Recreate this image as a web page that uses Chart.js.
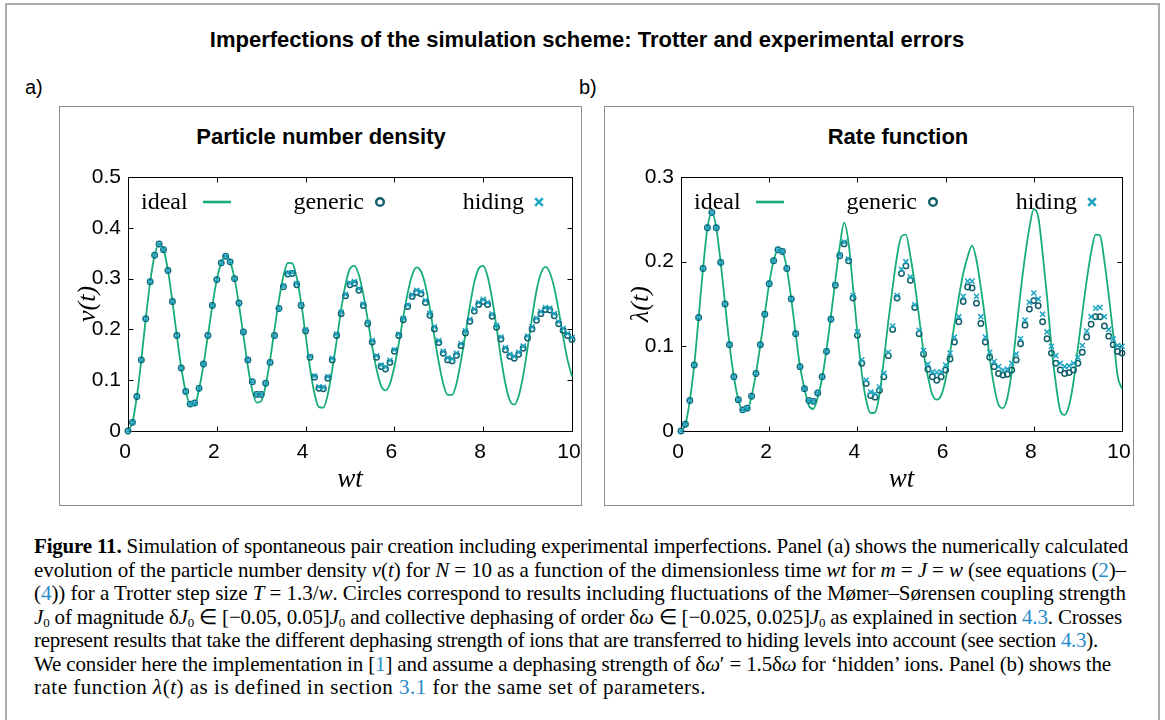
<!DOCTYPE html>
<html lang="en">
<head>
<meta charset="UTF-8">
<title>Imperfections of the simulation scheme</title>
<script src="https://cdn.jsdelivr.net/npm/chart.js@4.4.1/dist/chart.umd.min.js"></script>
<style>
  * { margin: 0; padding: 0; box-sizing: border-box; }
  body {
    width: 1165px; height: 720px; overflow: hidden; position: relative;
    background: #fff; color: #000;
    font-family: 'Liberation Sans', Arial, sans-serif;
  }
  .outer { position: absolute; left: 5px; top: 3px; width: 1155px; height: 760px; border: 2px solid #ababab; }
  .main-title { position: absolute; left: 0; top: 26px; width: 1174px; text-align: center; font-size: 22px; font-weight: bold; line-height: 28px; }
  .tag { position: absolute; top: 74px; font-size: 20px; line-height: 26px; }
  .panel { position: absolute; border: 1px solid #8e8e8e; }
  .panel-title { position: absolute; width: 400px; text-align: center; font-size: 22px; font-weight: bold; line-height: 28px; top: 123px; }
  canvas { position: absolute; }
  .caption {
    position: absolute; left: 34px; top: 535px;
    font-family: 'Liberation Serif', 'Times New Roman', serif; font-size: 21px; line-height: 23.5px;
  }
  .caption div { white-space: nowrap; }
  .caption a { color: #2a8bc9; text-decoration: none; }
  .caption sub { font-size: 13px; vertical-align: -3px; line-height: 0; }
</style>
</head>
<body>
<div class="outer"></div>
<div class="main-title">Imperfections of the simulation scheme: Trotter and experimental errors</div>
<div class="tag" style="left:25px">a)</div>
<div class="tag" style="left:579px">b)</div>

<div class="panel" style="left:59px; top:106px; width:523px; height:400px"></div>
<div class="panel" style="left:604px; top:106px; width:530px; height:400px"></div>
<div class="panel-title" style="left:121px">Particle number density</div>
<div class="panel-title" style="left:698px">Rate function</div>

<canvas id="chartA" width="560" height="397" style="left:40px; top:107px"></canvas>
<canvas id="chartB" width="550" height="397" style="left:600px; top:107px"></canvas>

<div class="caption">
  <div data-w="1094"><b>Figure 11.</b> Simulation of spontaneous pair creation including experimental imperfections. Panel (a) shows the numerically calculated</div>
  <div data-w="1092">evolution of the particle number density <i>ν</i>(<i>t</i>) for <i>N</i> = 10 as a function of the dimensionless time <i>wt</i> for <i>m</i> = <i>J</i> = <i>w</i> (see equations (<a>2</a>)–</div>
  <div data-w="1092">(<a>4</a>)) for a Trotter step size <i>T</i> = 1.3/<i>w</i>. Circles correspond to results including fluctuations of the Mømer–Sørensen coupling strength</div>
  <div data-w="1088"><i>J</i><sub>0</sub> of magnitude δ<i>J</i><sub>0</sub> ∈ [−0.05, 0.05]<i>J</i><sub>0</sub> and collective dephasing of order δ<i>ω</i> ∈ [−0.025, 0.025]<i>J</i><sub>0</sub> as explained in section <a>4.3</a>. Crosses</div>
  <div data-w="1064">represent results that take the different dephasing strength of ions that are transferred to hiding levels into account (see section <a>4.3</a>).</div>
  <div data-w="1077">We consider here the implementation in [<a>1</a>] and assume a dephasing strength of δ<i>ω</i>′ = 1.5δ<i>ω</i> for ‘hidden’ ions. Panel (b) shows the</div>
  <div data-w="672">rate function <i>λ</i>(<i>t</i>) as is defined in section <a>3.1</a> for the same set of parameters.</div>
</div>

<script>
// time grid wt = 0, 0.1, ..., 10 (one marker every 0.1)
const wt = Array.from({ length: 101 }, (_, i) => i / 10);

const xTicks = [0, 2, 4, 6, 8, 10];
const xTickLabels = ['0', '2', '4', '6', '8', '10'];
const yTicksA = [0, 0.1, 0.2, 0.3, 0.4, 0.5];
const yTickLabelsA = ['0', '0.1', '0.2', '0.3', '0.4', '0.5'];
const yTicksB = [0, 0.1, 0.2, 0.3];
const yTickLabelsB = ['0', '0.1', '0.2', '0.3'];

const seriesNames = ['ideal', 'generic', 'hiding'];

// (a) particle number density
const idealA = [
  0, 0.017, 0.068, 0.140, 0.221, 0.294, 0.346, 0.368, 0.357, 0.316,
  0.255, 0.188, 0.124, 0.078, 0.053, 0.052, 0.082, 0.130, 0.188, 0.247,
  0.298, 0.331, 0.345, 0.333, 0.300, 0.248, 0.188, 0.127, 0.080, 0.056,
  0.059, 0.089, 0.140, 0.200, 0.258, 0.305, 0.331, 0.330, 0.302, 0.252,
  0.189, 0.124, 0.074, 0.047, 0.046, 0.072, 0.121, 0.178, 0.239, 0.289,
  0.320, 0.325, 0.307, 0.269, 0.219, 0.166, 0.121, 0.089, 0.080, 0.093,
  0.127, 0.173, 0.224, 0.272, 0.307, 0.322, 0.314, 0.286, 0.241, 0.187,
  0.135, 0.093, 0.071, 0.071, 0.094, 0.139, 0.191, 0.246, 0.293, 0.320,
  0.325, 0.304, 0.261, 0.204, 0.144, 0.093, 0.060, 0.052, 0.069, 0.109,
  0.163, 0.223, 0.276, 0.310, 0.323, 0.312, 0.282, 0.237, 0.186, 0.140,
  0.107
];
const genericA = [
  0, 0.017, 0.068, 0.140, 0.221, 0.294, 0.346, 0.368, 0.357, 0.316,
  0.255, 0.188, 0.124, 0.078, 0.053, 0.055, 0.084, 0.132, 0.188, 0.247,
  0.298, 0.331, 0.344, 0.333, 0.300, 0.252, 0.195, 0.140, 0.097, 0.072,
  0.072, 0.094, 0.135, 0.188, 0.241, 0.284, 0.309, 0.310, 0.288, 0.247,
  0.197, 0.145, 0.106, 0.084, 0.083, 0.104, 0.140, 0.188, 0.231, 0.266,
  0.288, 0.291, 0.277, 0.247, 0.211, 0.175, 0.145, 0.127, 0.122, 0.135,
  0.157, 0.188, 0.219, 0.245, 0.265, 0.273, 0.270, 0.253, 0.228, 0.201,
  0.174, 0.153, 0.140, 0.138, 0.149, 0.168, 0.193, 0.216, 0.236, 0.249,
  0.255, 0.249, 0.226, 0.204, 0.181, 0.160, 0.147, 0.143, 0.151, 0.163,
  0.183, 0.201, 0.218, 0.231, 0.239, 0.238, 0.227, 0.211, 0.198, 0.188,
  0.180
];
const hidingA = [
  0, 0.017, 0.068, 0.140, 0.221, 0.294, 0.346, 0.368, 0.357, 0.316,
  0.255, 0.188, 0.124, 0.078, 0.053, 0.055, 0.084, 0.132, 0.188, 0.247,
  0.298, 0.331, 0.344, 0.333, 0.300, 0.252, 0.195, 0.140, 0.097, 0.072,
  0.072, 0.094, 0.135, 0.188, 0.241, 0.285, 0.311, 0.312, 0.290, 0.249,
  0.199, 0.147, 0.108, 0.087, 0.086, 0.107, 0.143, 0.191, 0.234, 0.269,
  0.291, 0.294, 0.280, 0.250, 0.214, 0.178, 0.148, 0.130, 0.126, 0.139,
  0.160, 0.191, 0.222, 0.248, 0.268, 0.277, 0.274, 0.257, 0.232, 0.205,
  0.178, 0.157, 0.144, 0.142, 0.153, 0.172, 0.197, 0.220, 0.240, 0.253,
  0.259, 0.253, 0.230, 0.208, 0.185, 0.164, 0.151, 0.147, 0.155, 0.167,
  0.187, 0.205, 0.222, 0.235, 0.243, 0.242, 0.231, 0.215, 0.202, 0.192,
  0.184
];

// (b) rate function
const idealB = [
  0, 0.008, 0.036, 0.078, 0.134, 0.192, 0.240, 0.258, 0.240, 0.199,
  0.150, 0.102, 0.064, 0.037, 0.025, 0.025, 0.041, 0.068, 0.102, 0.138,
  0.174, 0.201, 0.214, 0.212, 0.192, 0.156, 0.115, 0.076, 0.050, 0.030,
  0.026, 0.040, 0.062, 0.096, 0.136, 0.178, 0.218, 0.246, 0.222, 0.170,
  0.116, 0.068, 0.036, 0.021, 0.022, 0.043, 0.084, 0.129, 0.170, 0.207,
  0.230, 0.232, 0.207, 0.174, 0.134, 0.093, 0.064, 0.043, 0.037, 0.042,
  0.061, 0.092, 0.126, 0.158, 0.186, 0.206, 0.219, 0.202, 0.169, 0.131,
  0.087, 0.053, 0.031, 0.027, 0.039, 0.070, 0.117, 0.164, 0.206, 0.240,
  0.262, 0.253, 0.210, 0.159, 0.100, 0.056, 0.024, 0.019, 0.030, 0.058,
  0.098, 0.139, 0.178, 0.211, 0.232, 0.231, 0.201, 0.160, 0.115, 0.065,
  0.050
];
const genericB = [
  0, 0.008, 0.036, 0.078, 0.134, 0.192, 0.240, 0.258, 0.240, 0.199,
  0.150, 0.102, 0.064, 0.037, 0.025, 0.027, 0.041, 0.068, 0.102, 0.138,
  0.174, 0.201, 0.214, 0.212, 0.192, 0.156, 0.115, 0.076, 0.050, 0.036,
  0.035, 0.045, 0.064, 0.094, 0.132, 0.172, 0.207, 0.221, 0.201, 0.157,
  0.113, 0.080, 0.056, 0.042, 0.040, 0.048, 0.064, 0.089, 0.120, 0.157,
  0.186, 0.195, 0.178, 0.146, 0.115, 0.091, 0.073, 0.064, 0.060, 0.064,
  0.072, 0.085, 0.105, 0.129, 0.153, 0.170, 0.169, 0.151, 0.127, 0.105,
  0.087, 0.076, 0.068, 0.066, 0.067, 0.072, 0.084, 0.103, 0.125, 0.144,
  0.154, 0.148, 0.129, 0.109, 0.092, 0.080, 0.072, 0.068, 0.069, 0.072,
  0.080, 0.093, 0.111, 0.126, 0.135, 0.135, 0.124, 0.112, 0.102, 0.094,
  0.092
];
const hidingB = [
  0, 0.008, 0.036, 0.078, 0.134, 0.192, 0.240, 0.258, 0.240, 0.199,
  0.150, 0.102, 0.064, 0.037, 0.025, 0.027, 0.041, 0.068, 0.102, 0.138,
  0.174, 0.201, 0.214, 0.212, 0.192, 0.156, 0.115, 0.076, 0.050, 0.036,
  0.035, 0.045, 0.064, 0.094, 0.132, 0.173, 0.208, 0.223, 0.203, 0.160,
  0.117, 0.084, 0.060, 0.046, 0.044, 0.052, 0.068, 0.093, 0.124, 0.160,
  0.191, 0.200, 0.182, 0.149, 0.119, 0.095, 0.079, 0.070, 0.069, 0.070,
  0.078, 0.092, 0.111, 0.135, 0.159, 0.177, 0.177, 0.159, 0.135, 0.111,
  0.093, 0.082, 0.076, 0.072, 0.073, 0.080, 0.091, 0.109, 0.131, 0.152,
  0.163, 0.156, 0.138, 0.117, 0.100, 0.089, 0.080, 0.076, 0.077, 0.080,
  0.087, 0.101, 0.118, 0.135, 0.145, 0.146, 0.135, 0.120, 0.109, 0.101,
  0.100
];

const idealColor = '#16ad78';
const genericColor = '#115e6a';
const hidingColor = '#1ea5c2';

// gnuplot style frame with inward ticks on all four sides
const framePlugin = {
  id: 'gnuFrame',
  beforeDatasetsDraw(chart) {
    const { ctx, chartArea: a, scales: { x, y } } = chart;
    const L = Math.round(a.left) + 0.5, R = Math.round(a.right) + 0.5;
    const T = Math.round(a.top) + 0.5, B = Math.round(a.bottom) + 0.5;
    ctx.save();
    ctx.strokeStyle = '#000';
    ctx.lineWidth = 1;
    ctx.strokeRect(L, T, R - L, B - T);
    ctx.beginPath();
    x.ticks.forEach(t => {
      const px = Math.round(x.getPixelForValue(t.value)) + 0.5;
      ctx.moveTo(px, B); ctx.lineTo(px, B - 5);
      ctx.moveTo(px, T); ctx.lineTo(px, T + 5);
    });
    y.ticks.forEach(t => {
      const py = Math.round(y.getPixelForValue(t.value)) + 0.5;
      ctx.moveTo(L, py); ctx.lineTo(L + 5, py);
      ctx.moveTo(R, py); ctx.lineTo(R - 5, py);
    });
    ctx.stroke();
    ctx.restore();
  }
};

// key drawn inside the plot, along the top
const keyPlugin = {
  id: 'gnuKey',
  afterDraw(chart) {
    const { ctx, chartArea: a } = chart;
    const base = a.top + 32, mid = a.top + 25;
    ctx.save();
    ctx.fillStyle = '#000';
    ctx.font = '24px "Liberation Serif", serif';
    ctx.textBaseline = 'alphabetic';
    ctx.textAlign = 'left';
    ctx.fillText(seriesNames[0], a.left + 13, base);
    ctx.textAlign = 'right';
    ctx.fillText(seriesNames[1], a.left + 236, base);
    ctx.fillText(seriesNames[2], a.left + 396, base);

    ctx.strokeStyle = idealColor;
    ctx.lineWidth = 2.6;
    ctx.beginPath();
    ctx.moveTo(a.left + 75, mid); ctx.lineTo(a.left + 103, mid);
    ctx.stroke();

    ctx.strokeStyle = genericColor;
    ctx.lineWidth = 2.4;
    ctx.beginPath();
    ctx.arc(a.left + 252, mid, 3.8, 0, Math.PI * 2);
    ctx.stroke();

    ctx.strokeStyle = hidingColor;
    ctx.lineWidth = 2.6;
    const cx = a.left + 411, s = 3.8;
    ctx.beginPath();
    ctx.moveTo(cx - s, mid - s); ctx.lineTo(cx + s, mid + s);
    ctx.moveTo(cx - s, mid + s); ctx.lineTo(cx + s, mid - s);
    ctx.stroke();
    ctx.restore();
  }
};

function points(values) {
  return wt.map((t, i) => ({ x: t, y: values[i] }));
}

function makePanel(id, ideal, generic, hiding, yMax, yTicks, yLabels, yTitle, padLeft) {
  return new Chart(document.getElementById(id), {
    type: 'scatter',
    data: {
      datasets: [
        {
          label: seriesNames[0], data: points(ideal), showLine: true,
          borderColor: idealColor, borderWidth: 1.8, pointRadius: 0,
          cubicInterpolationMode: 'monotone', order: 3, clip: false
        },
        {
          label: seriesNames[1], data: points(generic), showLine: false,
          pointStyle: 'circle', pointRadius: 2.7, pointBorderWidth: 1.5,
          pointBorderColor: genericColor, pointBackgroundColor: 'rgba(0,0,0,0)',
          order: 2, clip: false
        },
        {
          label: seriesNames[2], data: points(hiding), showLine: false,
          pointStyle: 'crossRot', pointRadius: 3.6, pointBorderWidth: 1.5,
          pointBorderColor: hidingColor, order: 1, clip: false
        }
      ]
    },
    options: {
      responsive: false,
      animation: false,
      devicePixelRatio: 1,
      layout: { padding: { left: padLeft, right: 28, top: 70, bottom: 7 } },
      plugins: { legend: { display: false }, tooltip: { enabled: false } },
      scales: {
        x: {
          type: 'linear', min: 0, max: 10,
          afterBuildTicks: s => { s.ticks = xTicks.map(v => ({ value: v })); },
          afterFit: s => { s.height = 66; s.paddingLeft = 0; s.paddingRight = 0; },
          grid: { display: false, drawTicks: false },
          border: { display: false },
          ticks: {
            padding: 9, labelOffset: -3, color: '#000', maxRotation: 0, autoSkip: false,
            font: { family: 'Liberation Sans', size: 21 },
            callback: (v, i) => xTickLabels[i]
          },
          title: {
            display: true, text: 'wt', color: '#000',
            font: { family: 'Liberation Serif', size: 27, style: 'italic' },
            padding: { top: 0, bottom: 1 }
          }
        },
        y: {
          type: 'linear', min: 0, max: yMax,
          afterBuildTicks: s => { s.ticks = yTicks.map(v => ({ value: v })); },
          afterFit: s => { s.width = 58; s.paddingTop = 0; s.paddingBottom = 0; },
          grid: { display: false, drawTicks: false },
          border: { display: false },
          ticks: {
            padding: 7, color: '#000', autoSkip: false,
            font: { family: 'Liberation Sans', size: 21 },
            callback: (v, i) => yLabels[i]
          },
          title: {
            display: true, text: yTitle, color: '#000',
            font: { family: 'Liberation Serif', size: 26, style: 'italic' },
            padding: { top: 3, bottom: 0 }
          }
        }
      }
    },
    plugins: [framePlugin, keyPlugin]
  });
}

makePanel('chartA', idealA, genericA, hidingA, 0.5, yTicksA, yTickLabelsA, 'ν(t)', 30);
makePanel('chartB', idealB, genericB, hidingB, 0.3, yTicksB, yTickLabelsB, 'λ(t)', 23);

// fit each caption line to the width it has in the printed figure
document.querySelectorAll('.caption div').forEach(d => {
  d.style.display = 'inline-block';
  const natural = d.getBoundingClientRect().width;
  const n = d.textContent.length;
  d.style.letterSpacing = ((+d.dataset.w - natural) / n) + 'px';
  d.style.display = 'block';
});
</script>
</body>
</html>
